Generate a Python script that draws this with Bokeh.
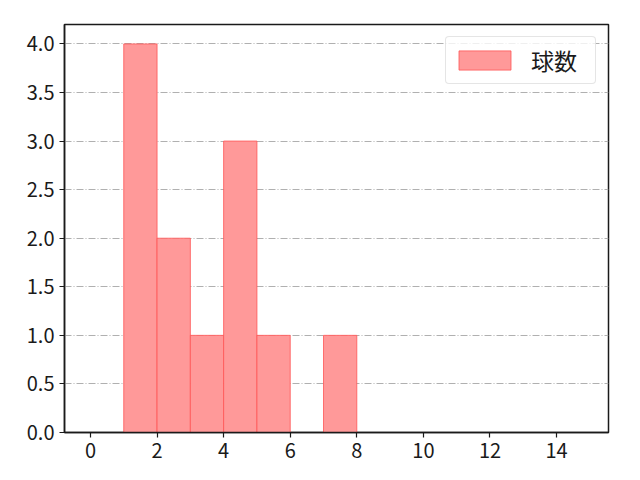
from bokeh.plotting import figure
from bokeh.models import FixedTicker, NumeralTickFormatter, Range1d
from bokeh.embed import file_html
from bokeh.resources import INLINE

# histogram data
bin_edges = [1, 2, 3, 4, 5, 6, 7, 8]
counts = [4, 2, 1, 3, 1, 0, 1]
x_ticks = [0, 2, 4, 6, 8, 10, 12, 14]
y_ticks = [0.0, 0.5, 1.0, 1.5, 2.0, 2.5, 3.0, 3.5, 4.0]
label = "球数"

FONT = "Noto Sans CJK JP"

p = figure(width=624, height=464, output_backend="svg", toolbar_location=None,
           x_range=Range1d(-0.78, 15.56), y_range=Range1d(0, 4.2),
           min_border_left=64, min_border_right=16, min_border_top=24, min_border_bottom=32)

p.quad(left=bin_edges[:-1], right=bin_edges[1:], bottom=0, top=counts,
       fill_color="#ff9999", fill_alpha=1.0, line_color="#ff5555", line_alpha=0.8,
       line_width=1, legend_label=label)

p.outline_line_color = "#1a1a1a"
p.outline_line_width = 1.5
p.outline_line_alpha = 1.0

p.xgrid.visible = False
p.ygrid.grid_line_color = "#b0b0b0"
p.ygrid.grid_line_dash = "7 2 1 2"
p.ygrid.grid_line_width = 1

p.xaxis.ticker = FixedTicker(ticks=x_ticks)
p.yaxis.ticker = FixedTicker(ticks=y_ticks)
p.yaxis.formatter = NumeralTickFormatter(format="0.0")

for ax in (p.xaxis, p.yaxis):
    ax.axis_line_color = "#1a1a1a"
    ax.axis_line_width = 1.5
    ax.major_tick_line_color = "#1a1a1a"
    ax.major_tick_line_width = 1.2
    ax.major_tick_out = 5
    ax.major_tick_in = 0
    ax.minor_tick_line_color = None
    ax.major_label_text_font = FONT
    ax.major_label_text_font_size = "20px"
    ax.major_label_text_color = "#1a1a1a"
    ax.major_label_standoff = 5

# area legend glyphs are drawn at 80% of the glyph box
p.legend.location = "top_right"
p.legend.margin = 12
p.legend.padding = 6
p.legend.glyph_width = 65
p.legend.glyph_height = 24
p.legend.label_height = 34
p.legend.label_width = 58
p.legend.label_standoff = 14
p.legend.label_text_font = FONT
p.legend.label_text_font_size = "23px"
p.legend.label_text_color = "#1a1a1a"
p.legend.border_line_color = "#cccccc"
p.legend.border_line_width = 1
p.legend.border_radius = 4
p.legend.background_fill_alpha = 0.8

open("out.html", "w").write(file_html(p, INLINE))
